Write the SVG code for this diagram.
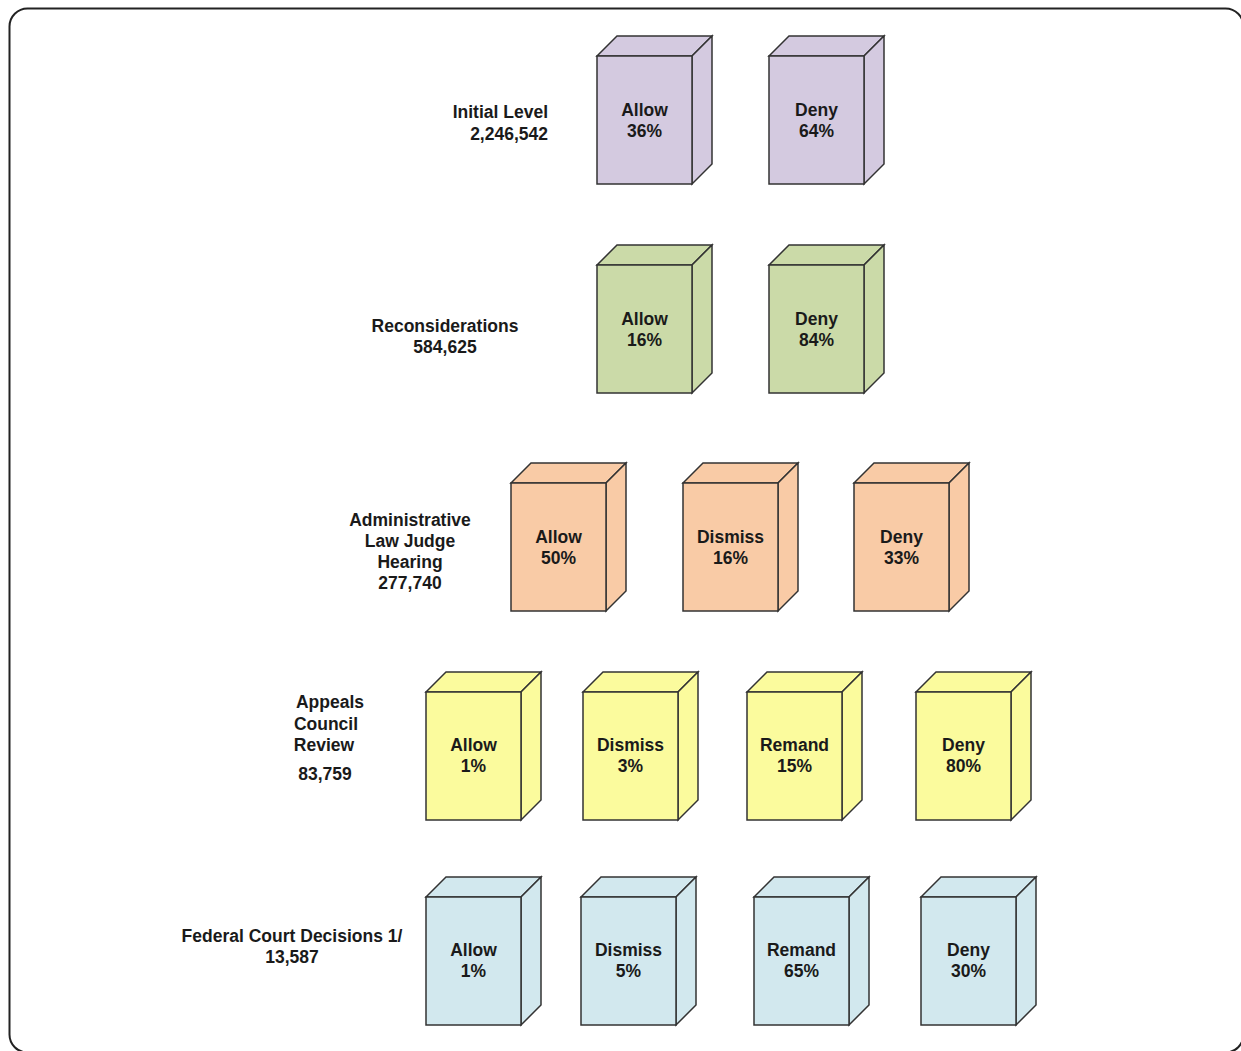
<svg xmlns="http://www.w3.org/2000/svg" width="1241" height="1051" viewBox="0 0 1241 1051">
<style>
.t{font-family:"Liberation Sans",Arial,sans-serif;font-weight:bold;font-size:17.5px;fill:#1a1a1a;stroke:none}
.m{text-anchor:middle}
.e{text-anchor:end}
.p{fill:#d4cae0}
.g{fill:#cbdaa8}
.o{fill:#f9cba6}
.y{fill:#fbfb9d}
.c{fill:#d2e8ee}
</style>
<defs>
<g id="box" stroke="#333" stroke-width="1.5" stroke-linejoin="miter">
<path d="M0,0 L20,-20 L115,-20 L95,0 Z"/>
<path d="M95,0 L115,-20 L115,108 L95,128 Z"/>
<rect x="0" y="0" width="95" height="128"/>
</g>
</defs>
<rect id="frame" x="9.5" y="8.5" width="1234" height="1044" rx="18" fill="#fff" stroke="#222" stroke-width="2"/>
<g id="connectors"/>

<g id="label-initial"><text class="t e" x="548" y="118">Initial Level</text><text class="t e" x="548" y="140">2,246,542</text></g>
<g id="label-recon"><text class="t m" x="445" y="332">Reconsiderations</text><text class="t m" x="445" y="353">584,625</text></g>
<g id="label-alj"><text class="t m" x="410" y="526">Administrative</text><text class="t m" x="410" y="547">Law Judge</text><text class="t m" x="410" y="568">Hearing</text><text class="t m" x="410" y="589">277,740</text></g>
<g id="label-appeals"><text class="t m" x="330" y="708">Appeals</text><text class="t m" x="326" y="730">Council</text><text class="t m" x="324" y="751">Review</text><text class="t m" x="325" y="780">83,759</text></g>
<g id="label-federal"><text class="t m" x="292" y="942">Federal Court Decisions 1/</text><text class="t m" x="292" y="963">13,587</text></g>

<g id="init-allow" class="p" transform="translate(597,56)"><use href="#box"/><text class="t m" x="47.5" y="60">Allow</text><text class="t m" x="47.5" y="81">36%</text></g>
<g id="init-deny" class="p" transform="translate(769,56)"><use href="#box"/><text class="t m" x="47.5" y="60">Deny</text><text class="t m" x="47.5" y="81">64%</text></g>

<g id="recon-allow" class="g" transform="translate(597,265)"><use href="#box"/><text class="t m" x="47.5" y="60">Allow</text><text class="t m" x="47.5" y="81">16%</text></g>
<g id="recon-deny" class="g" transform="translate(769,265)"><use href="#box"/><text class="t m" x="47.5" y="60">Deny</text><text class="t m" x="47.5" y="81">84%</text></g>

<g id="alj-allow" class="o" transform="translate(511,483)"><use href="#box"/><text class="t m" x="47.5" y="60">Allow</text><text class="t m" x="47.5" y="81">50%</text></g>
<g id="alj-dismiss" class="o" transform="translate(683,483)"><use href="#box"/><text class="t m" x="47.5" y="60">Dismiss</text><text class="t m" x="47.5" y="81">16%</text></g>
<g id="alj-deny" class="o" transform="translate(854,483)"><use href="#box"/><text class="t m" x="47.5" y="60">Deny</text><text class="t m" x="47.5" y="81">33%</text></g>

<g id="ac-allow" class="y" transform="translate(426,692)"><use href="#box"/><text class="t m" x="47.5" y="59">Allow</text><text class="t m" x="47.5" y="80">1%</text></g>
<g id="ac-dismiss" class="y" transform="translate(583,692)"><use href="#box"/><text class="t m" x="47.5" y="59">Dismiss</text><text class="t m" x="47.5" y="80">3%</text></g>
<g id="ac-remand" class="y" transform="translate(747,692)"><use href="#box"/><text class="t m" x="47.5" y="59">Remand</text><text class="t m" x="47.5" y="80">15%</text></g>
<g id="ac-deny" class="y" transform="translate(916,692)"><use href="#box"/><text class="t m" x="47.5" y="59">Deny</text><text class="t m" x="47.5" y="80">80%</text></g>

<g id="fc-allow" class="c" transform="translate(426,897)"><use href="#box"/><text class="t m" x="47.5" y="59">Allow</text><text class="t m" x="47.5" y="80">1%</text></g>
<g id="fc-dismiss" class="c" transform="translate(581,897)"><use href="#box"/><text class="t m" x="47.5" y="59">Dismiss</text><text class="t m" x="47.5" y="80">5%</text></g>
<g id="fc-remand" class="c" transform="translate(754,897)"><use href="#box"/><text class="t m" x="47.5" y="59">Remand</text><text class="t m" x="47.5" y="80">65%</text></g>
<g id="fc-deny" class="c" transform="translate(921,897)"><use href="#box"/><text class="t m" x="47.5" y="59">Deny</text><text class="t m" x="47.5" y="80">30%</text></g>
</svg>
